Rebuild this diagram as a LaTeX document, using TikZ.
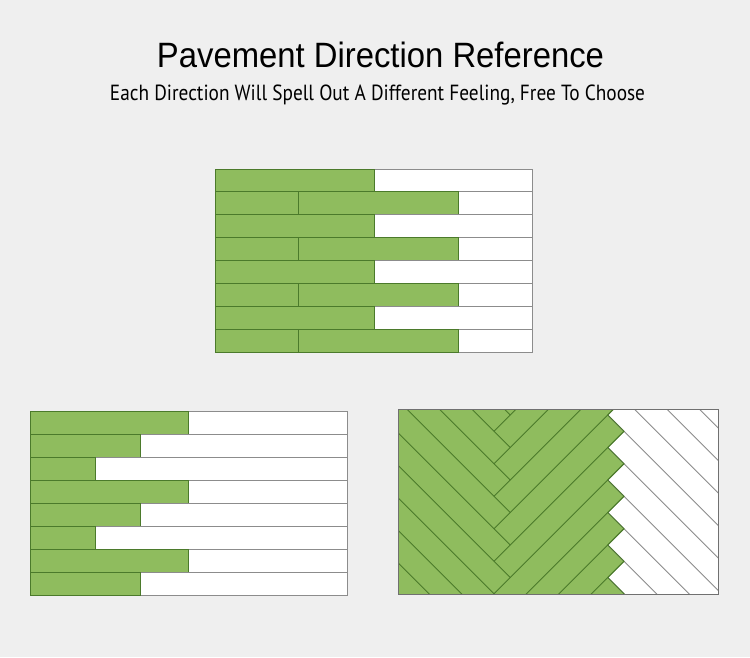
\documentclass[tikz,border=0pt]{standalone}
\usepackage{fontspec}
\setmainfont{Liberation Sans}
\newfontfamily\subfont{PT Sans}
\definecolor{pagegray}{HTML}{EFEFEF}
\definecolor{plankgreen}{HTML}{8FBC5E}
\definecolor{seamgreen}{HTML}{4B7A2B}
\definecolor{seamgray}{HTML}{8C8C8C}
\definecolor{framegray}{HTML}{707070}

\begin{document}
\begin{tikzpicture}[x=1pt,y=-1pt,line width=0.9pt,
  greenplank/.style={fill=plankgreen,draw=seamgreen},
  whiteplank/.style={fill=white,draw=seamgray},
  panelframe/.style={draw=framegray}]
\fill[pagegray] (0,0) rectangle (750,657);
\useasboundingbox (0,0) rectangle (750,657);
% ---------- heading ----------
\node[anchor=base,inner sep=0] (title) at (380.5,67.3)
  {\resizebox{447pt}{25.5pt}{Pavement Direction Reference}};
\node[anchor=base,inner sep=0] (subtitle) at (377.5,100.5)
  {\resizebox{535pt}{15.6pt}{\subfont Each Direction Will Spell Out A Different Feeling, Free To Choose}};
% ---------- staggered rows (top) ----------
\draw[whiteplank] (374,169) rectangle (532,191.9);
\draw[greenplank] (215,169) rectangle (374,191.9);
\draw[whiteplank] (458,191.9) rectangle (532,214.8);
\draw[greenplank] (215,191.9) rectangle (298,214.8);
\draw[greenplank] (298,191.9) rectangle (458,214.8);
\draw[whiteplank] (374,214.8) rectangle (532,237.6);
\draw[greenplank] (215,214.8) rectangle (374,237.6);
\draw[whiteplank] (458,237.6) rectangle (532,260.5);
\draw[greenplank] (215,237.6) rectangle (298,260.5);
\draw[greenplank] (298,237.6) rectangle (458,260.5);
\draw[whiteplank] (374,260.5) rectangle (532,283.4);
\draw[greenplank] (215,260.5) rectangle (374,283.4);
\draw[whiteplank] (458,283.4) rectangle (532,306.3);
\draw[greenplank] (215,283.4) rectangle (298,306.3);
\draw[greenplank] (298,283.4) rectangle (458,306.3);
\draw[whiteplank] (374,306.3) rectangle (532,329.1);
\draw[greenplank] (215,306.3) rectangle (374,329.1);
\draw[whiteplank] (458,329.1) rectangle (532,352);
\draw[greenplank] (215,329.1) rectangle (298,352);
\draw[greenplank] (298,329.1) rectangle (458,352);
% ---------- stepped rows (bottom left) ----------
\draw[whiteplank] (30,411) rectangle (347,434);
\draw[greenplank] (30,411) rectangle (188.3,434);
\draw[whiteplank] (30,434) rectangle (347,457);
\draw[greenplank] (30,434) rectangle (140.7,457);
\draw[whiteplank] (30,457) rectangle (347,480);
\draw[greenplank] (30,457) rectangle (95.7,480);
\draw[whiteplank] (30,480) rectangle (347,503);
\draw[greenplank] (30,480) rectangle (188.3,503);
\draw[whiteplank] (30,503) rectangle (347,526);
\draw[greenplank] (30,503) rectangle (140.7,526);
\draw[whiteplank] (30,526) rectangle (347,549);
\draw[greenplank] (30,526) rectangle (95.7,549);
\draw[whiteplank] (30,549) rectangle (347,572);
\draw[greenplank] (30,549) rectangle (188.3,572);
\draw[whiteplank] (30,572) rectangle (347,595);
\draw[greenplank] (30,572) rectangle (140.7,595);
% ---------- herringbone (bottom right) ----------
\begin{scope}
\clip (398,409) rectangle (718,594);
\fill[white] (398,409) rectangle (718,594);
\fill[plankgreen] (390,398.75) -- (624,398.75) -- (607.75,415) -- (624,431.25)
  -- (607.75,447.5) -- (624,463.75) -- (607.75,480) -- (624,496.25)
  -- (607.75,512.5) -- (624,528.75) -- (607.75,545) -- (624,561.25)
  -- (607.75,577.5) -- (624,593.75) -- (607.75,610) -- (390,610) -- cycle;
% white planks
\draw[seamgray] (607.75,317.5) -- ++(160,160);
\draw[seamgray] (607.75,350) -- ++(160,160);
\draw[seamgray] (607.75,382.5) -- ++(160,160);
\draw[seamgray] (607.75,415) -- ++(160,160);
\draw[seamgray] (607.75,447.5) -- ++(160,160);
\draw[seamgray] (607.75,480) -- ++(160,160);
\draw[seamgray] (607.75,512.5) -- ++(160,160);
\draw[seamgray] (607.75,545) -- ++(160,160);
\draw[seamgray] (607.75,577.5) -- ++(160,160);
% left column, ending on the centre seam
\draw[seamgreen] (510.25,415) -- ++(-160,-160);
\draw[seamgreen] (510.25,447.5) -- ++(-160,-160);
\draw[seamgreen] (510.25,480) -- ++(-160,-160);
\draw[seamgreen] (510.25,512.5) -- ++(-160,-160);
\draw[seamgreen] (510.25,545) -- ++(-160,-160);
\draw[seamgreen] (510.25,577.5) -- ++(-160,-160);
\draw[seamgreen] (510.25,610) -- ++(-160,-160);
\draw[seamgreen] (510.25,642.5) -- ++(-160,-160);
\draw[seamgreen] (510.25,675) -- ++(-160,-160);
% middle column, from the centre seam to the green edge
\draw[seamgreen] (494,431.25) -- ++(130,-130);
\draw[seamgreen] (494,463.75) -- ++(130,-130);
\draw[seamgreen] (494,496.25) -- ++(130,-130);
\draw[seamgreen] (494,528.75) -- ++(130,-130);
\draw[seamgreen] (494,561.25) -- ++(130,-130);
\draw[seamgreen] (494,593.75) -- ++(130,-130);
\draw[seamgreen] (494,626.25) -- ++(130,-130);
\draw[seamgreen] (494,658.75) -- ++(130,-130);
\draw[seamgreen] (494,691.25) -- ++(130,-130);
\draw[seamgreen] (494,723.75) -- ++(130,-130);
% green edge
\draw[seamgreen] (624,398.75) -- (607.75,415) -- (624,431.25)
  -- (607.75,447.5) -- (624,463.75) -- (607.75,480) -- (624,496.25)
  -- (607.75,512.5) -- (624,528.75) -- (607.75,545) -- (624,561.25)
  -- (607.75,577.5) -- (624,593.75) -- (607.75,610);
\end{scope}
\draw[panelframe] (398,409) rectangle (718,594);
\end{tikzpicture}
\end{document}
